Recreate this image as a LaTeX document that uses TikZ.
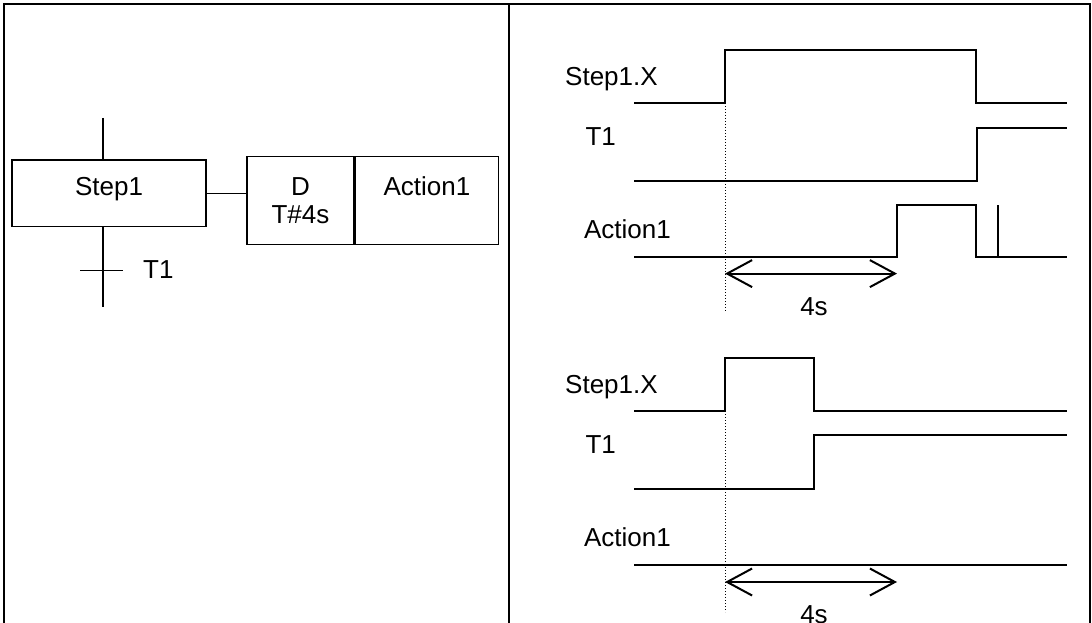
\documentclass[tikz,border=0pt]{standalone}
\usepackage{fontspec}
\setmainfont{Liberation Sans}
\usetikzlibrary{arrows.meta}
\begin{document}
\begin{tikzpicture}[x=1pt,y=-1pt,
  every node/.style={font=\fontsize{26}{28.4}\selectfont, inner sep=0pt},
  frame/.style={line width=2pt},
  box/.style={draw, line width=1.5pt, rectangle, inner sep=0pt},
  link/.style={line width=1.5pt},
  sig/.style={line width=2pt, line join=miter},
  guide/.style={dotted, line width=1pt},
  span/.style={line width=2pt, {Straight Barb[length=25pt,width=27pt]}-{Straight Barb[length=25pt,width=27pt]}},
  lbl/.style={anchor=base west},
]
\useasboundingbox (0,0) rectangle (1092,623);
\clip (0,0) rectangle (1092,623);
\fill[white] (0,0) rectangle (1092,623);

% frame
\draw[frame] (4,623) -- (4,4) -- (1090,4) -- (1090,623);
\draw[frame] (509,4) -- (509,623);

% left: SFC
\node[box, minimum width=194pt, minimum height=66.7pt, text height=11pt, text depth=6pt] (step1) at (109,193.3) {Step1};
\coordinate (sfctop) at (103,118);
\coordinate (sfcbot) at (103,306.7);
\draw[link] (sfctop) -- (sfctop |- step1.north);
\draw[link] (sfcbot |- step1.south) -- (sfcbot);
\coordinate (t1) at (103,270.7);
\draw[link] ([xshift=-23pt]t1) -- ([xshift=20pt]t1);
\node[lbl] (t1lbl) at (143,278.3) {T1};

\node[box, minimum width=107pt, minimum height=87.6pt, align=center] (dbox) at (300.5,200.5) {D\\T\#4s};
\node[box, minimum width=143pt, minimum height=87.6pt, align=center, anchor=west] (abox) at (dbox.east) {Action1\\\phantom{T\#4s}};
\draw[link] (step1.east) -- (dbox.west |- step1.east);

% right: upper timing diagram
\node[lbl] (sxa) at (565,85.3) {Step1.X};
\node[lbl] (t1a) at (585.4,145.4) {T1};
\node[lbl] (aca) at (583.8,238.7) {Action1};
\draw[sig] (634,103) -- (725,103) -- (725,50) -- (976,50) -- (976,103) -- (1067,103);
\draw[sig] (634,181) -- (977,181) -- (977,128) -- (1067,128);
\draw[sig] (634,257) -- (897,257) -- (897,205) -- (976,205) -- (976,257) -- (1067,257);
\draw[sig] (998,257) -- (998,205);
\coordinate (ga1) at (725,103);
\coordinate (ga2) at (725,311);
\draw[guide] (ga1) -- (ga2);
\coordinate (aa1) at (725,273.6);
\coordinate (aa2) at (897,273.6);
\draw[span] (aa1) -- (aa2);
\node[anchor=base] (fsa) at (814,315) {4s};

% right: lower timing diagram
\node[lbl] (sxb) at (565,393.3) {Step1.X};
\node[lbl] (t1b) at (585.4,453.4) {T1};
\node[lbl] (acb) at (583.8,546.7) {Action1};
\draw[sig] (634,411) -- (725,411) -- (725,358) -- (814,358) -- (814,411) -- (1067,411);
\draw[sig] (634,489) -- (814,489) -- (814,435) -- (1067,435);
\draw[sig] (634,565) -- (1067,565);
\coordinate (gb1) at (725,411);
\coordinate (gb2) at (725,612);
\draw[guide] (gb1) -- (gb2);
\coordinate (ab1) at (725,582);
\coordinate (ab2) at (897,582);
\draw[span] (ab1) -- (ab2);
\node[anchor=base] (fsb) at (814,623) {4s};
\end{tikzpicture}
\end{document}
